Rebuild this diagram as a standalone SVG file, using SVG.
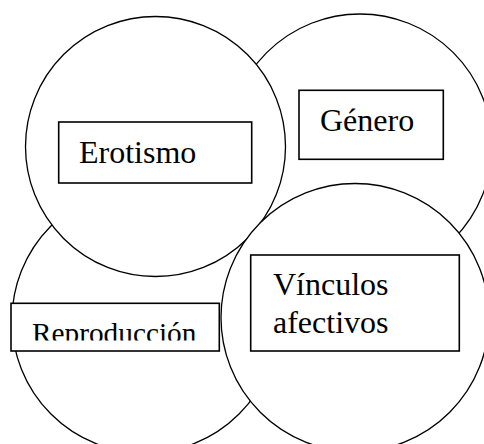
<svg xmlns="http://www.w3.org/2000/svg" width="484" height="444" viewBox="0 0 484 444">
<style>
.c{fill:#fff;stroke:#000;stroke-width:1.3}
.b{fill:#fff;stroke:#000;stroke-width:1.6}
text{fill:#000;font-family:'Liberation Serif','Times New Roman',Times,serif;font-size:32px}
</style>
<defs>
<clipPath id="rclip"><rect x="11" y="303" width="209" height="37.5"/></clipPath>
</defs>
<rect width="484" height="444" fill="#fff"/>
<g id="reproduccion-circle"><circle class="c" cx="145" cy="320" r="133"/></g>
<g id="genero-circle"><circle class="c" cx="360" cy="146" r="132"/></g>
<g id="erotismo-circle"><circle class="c" cx="155.5" cy="146.5" r="130"/></g>
<g id="vinculos-circle"><circle class="c" cx="355" cy="317.5" r="134"/></g>
<g id="connectors"></g>
<g id="erotismo">
<rect class="b" x="58.7" y="122" width="193" height="61"/>
<text x="79" y="163">Erotismo</text>
</g>
<g id="genero">
<rect class="b" x="299" y="90.3" width="144.3" height="69"/>
<text x="320" y="131">Género</text>
</g>
<g id="vinculos">
<rect class="b" x="250.7" y="255" width="208.6" height="96"/>
<text x="273" y="295">Vínculos</text>
<text x="273" y="333">afectivos</text>
</g>
<g id="reproduccion">
<rect class="b" x="11" y="303.3" width="208.3" height="47.7"/>
<text x="32" y="343" style="font-size:29.3px" clip-path="url(#rclip)">Reproducción</text>
</g>
</svg>
